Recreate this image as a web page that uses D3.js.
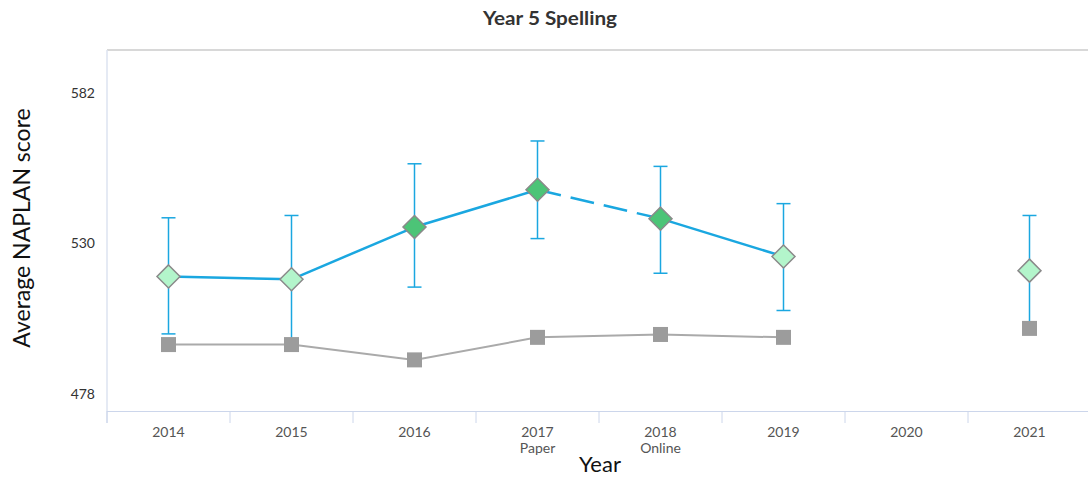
<!DOCTYPE html>
<html><head><meta charset="utf-8">
<script src="https://cdn.jsdelivr.net/npm/d3@7"></script>
<style>body{margin:0;background:#fff;} svg{display:block;font-family:Lato,"Open Sans",sans-serif;}</style>
</head><body>
<svg id="c" width="1088" height="479"></svg>
<script>
const years = ["2014","2015","2016","2017","2018","2019","2020","2021"];
const subLabels = ["","","","Paper","Online","","",""];
const schoolMean = [518.6, 517.6, 535.7, 548.6, 538.6, 525.5, null, 520.6];
const schoolHigh = [538.9, 539.7, 557.6, 565.5, 556.7, 543.8, null, 539.7];
const schoolLow  = [498.7, 495.4, 514.9, 531.7, 519.7, 506.8, null, 502.7];
const significant = [false, false, true, true, true, false, null, false];
const comparison = [495.0, 495.0, 489.7, 497.5, 498.5, 497.5, null, 500.6];
const yTicks = [478, 530, 582];
const dashedSegments = [["2017","2018"]];

const svg = d3.select("#c");
const L = 107, R = 1091, T = 50, B = 411;
const x = d3.scaleBand().domain(years).range([L, R]);
const y = d3.scaleLinear().domain([472, 597]).range([B, T]);
const cx = d => x(d) + x.bandwidth()/2;

// frame
svg.append("line").attr("x1", L).attr("x2", 1088).attr("y1", T).attr("y2", T)
  .attr("stroke", "#d8d8d8").attr("stroke-width", 2);
svg.append("line").attr("x1", L).attr("x2", L).attr("y1", T).attr("y2", 423)
  .attr("stroke", "#dde3f0").attr("stroke-width", 1.5);

// x axis
const xAxis = svg.append("g").attr("transform", `translate(0,${B})`)
  .call(d3.axisBottom(x).tickSize(0).tickFormat(""));
xAxis.select(".domain").attr("stroke", "#ccd6eb").attr("d", `M${L},0.5H${R}`);
xAxis.selectAll(".tick").remove();
const bounds = years.map(d => x(d));
svg.append("g").selectAll("line").data(bounds).join("line")
  .attr("x1", d => d).attr("x2", d => d).attr("y1", B).attr("y2", 423)
  .attr("stroke", "#ccd6eb").attr("stroke-width", 1);
svg.append("g").selectAll("text").data(years).join("text")
  .attr("x", d => cx(d)).attr("y", 437).attr("text-anchor", "middle")
  .attr("font-size", 14).attr("fill", "#555").text(d => d);
svg.append("g").selectAll("text").data(years.filter((d,i)=>subLabels[i])).join("text")
  .attr("x", d => cx(d)).attr("y", 453).attr("text-anchor", "middle")
  .attr("font-size", 14).attr("fill", "#555").text(d => subLabels[years.indexOf(d)]);

// y axis
const yAxis = svg.append("g").attr("transform", `translate(${L},0)`)
  .call(d3.axisLeft(y).tickValues(yTicks).tickSize(0).tickPadding(12));
yAxis.select(".domain").remove();
yAxis.selectAll("text").attr("font-size", 14).attr("fill", "#333").attr("font-family", "Lato, sans-serif");

// titles
svg.append("text").attr("x", 550).attr("y", 25).attr("text-anchor", "middle")
  .attr("font-size", 19).attr("font-weight", "bold").attr("fill", "#333")
  .attr("textLength", 134).attr("lengthAdjust", "spacingAndGlyphs").text("Year 5 Spelling");
svg.append("text").attr("transform", "translate(30,228) rotate(-90)").attr("text-anchor", "middle")
  .attr("font-size", 23).attr("fill", "#111").text("Average NAPLAN score");
svg.append("text").attr("x", 600).attr("y", 472).attr("text-anchor", "middle")
  .attr("font-size", 22).attr("fill", "#111").text("Year");

// comparison line
const grayPts = years.map((d,i)=>({d, v: comparison[i]}));
svg.append("path").datum(grayPts)
  .attr("d", d3.line().defined(p => p.v != null && years.indexOf(p.d) < 6).x(p => cx(p.d)).y(p => y(p.v)))
  .attr("fill", "none").attr("stroke", "#aaa").attr("stroke-width", 2);

// school line segments
const pts = years.map((d,i)=>({d, v: schoolMean[i]}));
for (let i = 0; i < years.length - 1; i++) {
  const a = pts[i], b = pts[i+1];
  if (a.v == null || b.v == null) continue;
  const dashed = dashedSegments.some(s => s[0] === a.d && s[1] === b.d);
  svg.append("line").attr("x1", cx(a.d)).attr("y1", y(a.v)).attr("x2", cx(b.d)).attr("y2", y(b.v))
    .attr("stroke", "#1aa7e0").attr("stroke-width", 2.5)
    .attr("stroke-dasharray", dashed ? "24,10" : null);
}

// error bars
const eb = years.map((d,i)=>({d, lo: schoolLow[i], hi: schoolHigh[i]})).filter(e => e.lo != null);
const ebg = svg.append("g").attr("stroke", "#1aa7e0").attr("stroke-width", 1.5);
ebg.selectAll(".v").data(eb).join("line").attr("x1", e=>cx(e.d)).attr("x2", e=>cx(e.d))
  .attr("y1", e=>y(e.lo)).attr("y2", e=>y(e.hi));
ebg.selectAll(".t").data(eb).join("line").attr("x1", e=>cx(e.d)-7).attr("x2", e=>cx(e.d)+7)
  .attr("y1", e=>y(e.hi)).attr("y2", e=>y(e.hi));
ebg.selectAll(".b").data(eb).join("line").attr("x1", e=>cx(e.d)-7).attr("x2", e=>cx(e.d)+7)
  .attr("y1", e=>y(e.lo)).attr("y2", e=>y(e.lo));

// squares
const sq = 15;
svg.append("g").selectAll("rect").data(grayPts.filter(p=>p.v!=null)).join("rect")
  .attr("x", p=>cx(p.d)-sq/2).attr("y", p=>y(p.v)-sq/2).attr("width", sq).attr("height", sq)
  .attr("fill", "#9c9c9c");

// diamonds
const r = 11.5;
svg.append("g").selectAll("path").data(pts.filter(p=>p.v!=null)).join("path")
  .attr("d", p => { const X = cx(p.d), Y = y(p.v); return `M${X},${Y-r}L${X+r},${Y}L${X},${Y+r}L${X-r},${Y}Z`; })
  .attr("fill", p => significant[years.indexOf(p.d)] ? "#4cc477" : "#b3f5cb")
  .attr("stroke", "#8a8a8a").attr("stroke-width", 1.5);
</script>
</body></html>
